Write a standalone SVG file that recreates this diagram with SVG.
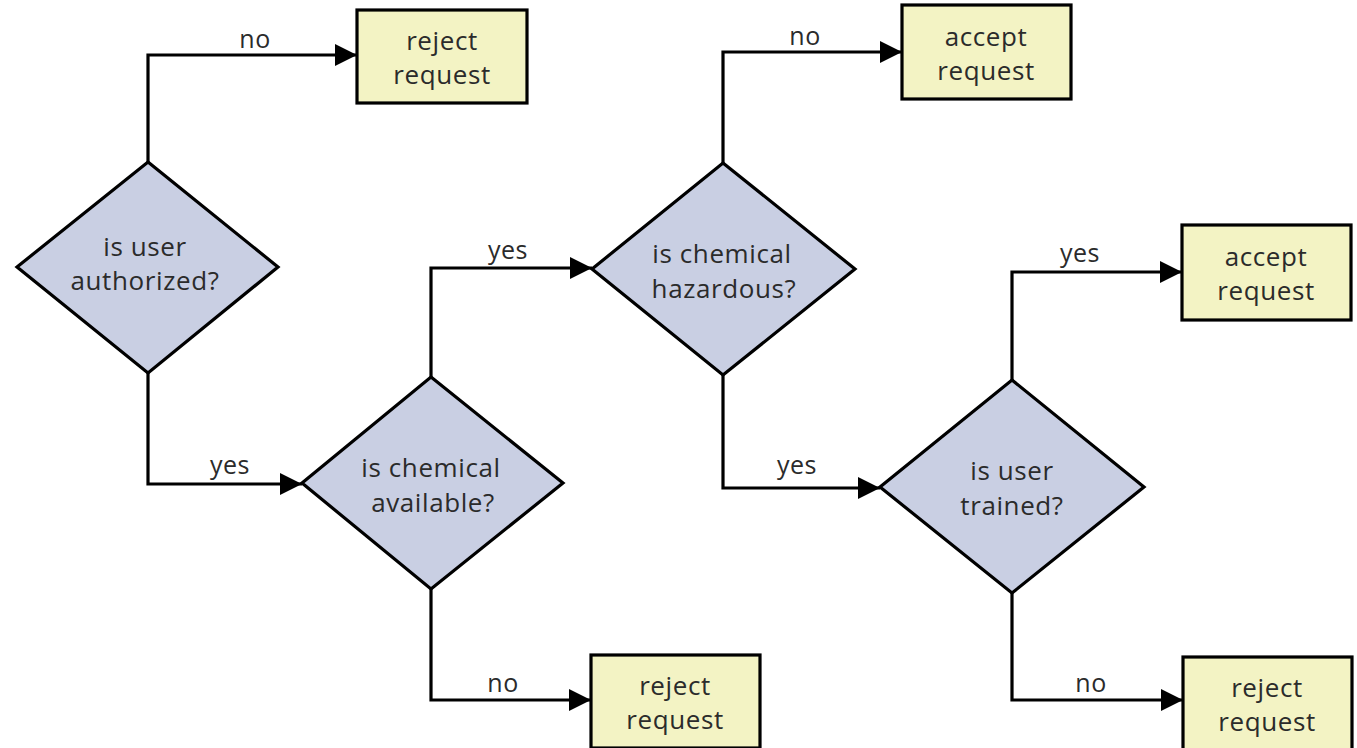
<svg xmlns="http://www.w3.org/2000/svg" width="1357" height="748" viewBox="0 0 1357 748">
  <defs>
    <marker id="arrow" markerUnits="userSpaceOnUse" markerWidth="24" markerHeight="22" refX="22" refY="11" orient="auto">
      <path d="M0,0 L22,11 L0,22 Z" fill="#000"/>
    </marker>
    <style>
      .decision { fill: #c9cfe3; stroke: #000; stroke-width: 3.2; stroke-linejoin: miter; }
      .outcome { fill: #f3f3c4; stroke: #000; stroke-width: 3.2; }
      .node-text { font-family: "Open Sans", "Noto Sans", sans-serif; font-size: 26px; letter-spacing: 0.6px; fill: #2b2b2b; text-anchor: middle; }
      .edge { fill: none; stroke: #000; stroke-width: 3.2; marker-end: url(#arrow); }
      .edge-label { font-family: "Open Sans", "Noto Sans", sans-serif; font-size: 25px; letter-spacing: 0.5px; fill: #2b2b2b; text-anchor: middle; }
    </style>
  </defs>
  <rect width="1357" height="748" fill="#fff"/>

  <g id="connectors">
    <path class="edge" d="M148,162 V55 H357"/>
    <text class="edge-label" x="255" y="48">no</text>
    <path class="edge" d="M148,373 V484 H302"/>
    <text class="edge-label" x="230" y="474">yes</text>
    <path class="edge" d="M431,377 V268 H592"/>
    <text class="edge-label" x="508" y="259">yes</text>
    <path class="edge" d="M431,589 V700 H591"/>
    <text class="edge-label" x="503" y="692">no</text>
    <path class="edge" d="M723,163 V52 H902"/>
    <text class="edge-label" x="805" y="45">no</text>
    <path class="edge" d="M723,375 V488 H880"/>
    <text class="edge-label" x="797" y="474">yes</text>
    <path class="edge" d="M1012,380 V272 H1182"/>
    <text class="edge-label" x="1080" y="262">yes</text>
    <path class="edge" d="M1012,593 V700 H1183"/>
    <text class="edge-label" x="1091" y="692">no</text>
  </g>

  <g id="is-user-authorized">
    <polygon class="decision" points="148,162 278,267 148,373 17,267"/>
    <text class="node-text" x="145" y="256">is user</text>
    <text class="node-text" x="145" y="290">authorized?</text>
  </g>
  <g id="is-chemical-available">
    <polygon class="decision" points="431,377 563,483 431,589 302,483"/>
    <text class="node-text" x="431" y="477">is chemical</text>
    <text class="node-text" x="433" y="512">available?</text>
  </g>
  <g id="is-chemical-hazardous">
    <polygon class="decision" points="723,163 855,269 723,375 592,269"/>
    <text class="node-text" x="722" y="263">is chemical</text>
    <text class="node-text" x="724" y="298">hazardous?</text>
  </g>
  <g id="is-user-trained">
    <polygon class="decision" points="1012,380 1144,487 1012,593 880,487"/>
    <text class="node-text" x="1012" y="480">is user</text>
    <text class="node-text" x="1012" y="515">trained?</text>
  </g>

  <g id="reject-request-1">
    <rect class="outcome" x="357" y="10" width="170" height="93"/>
    <text class="node-text" x="442" y="50">reject</text>
    <text class="node-text" x="442" y="84">request</text>
  </g>
  <g id="accept-request-1">
    <rect class="outcome" x="902" y="5" width="169" height="94"/>
    <text class="node-text" x="986" y="46">accept</text>
    <text class="node-text" x="986" y="80">request</text>
  </g>
  <g id="accept-request-2">
    <rect class="outcome" x="1182" y="225" width="169" height="95"/>
    <text class="node-text" x="1266" y="266">accept</text>
    <text class="node-text" x="1266" y="300">request</text>
  </g>
  <g id="reject-request-2">
    <rect class="outcome" x="591" y="655" width="169" height="93"/>
    <text class="node-text" x="675" y="695">reject</text>
    <text class="node-text" x="675" y="729">request</text>
  </g>
  <g id="reject-request-3">
    <rect class="outcome" x="1183" y="657" width="169" height="93"/>
    <text class="node-text" x="1267" y="697">reject</text>
    <text class="node-text" x="1267" y="731">request</text>
  </g>
</svg>
